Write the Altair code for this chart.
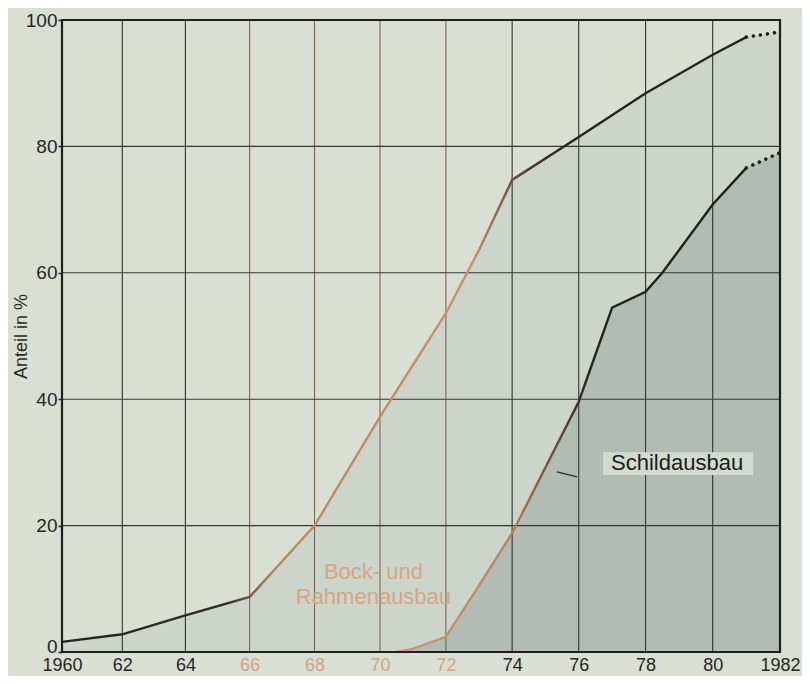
import altair as alt
import pandas as pd

# ---------------- values ----------------
BASE_YEAR = 1960

# upper curve (boundary of "Bock- und Rahmenausbau"), solid part
upper_years = [1960, 1962, 1964, 1966, 1968, 1970, 1972, 1973, 1974, 1976, 1978, 1980, 1981]
upper_share = [1.6, 2.8, 5.8, 8.7, 20.0, 37.2, 53.6, 63.6, 74.7, 81.5, 88.4, 94.5, 97.3]
# dotted estimate
upper_est_years = [1981, 1982]
upper_est_share = [97.3, 98.1]

# lower curve ("Schildausbau"), solid part
lower_years = [1970.5, 1971, 1972, 1973, 1974, 1976, 1977, 1978, 1978.5, 1980, 1981]
lower_share = [0.0, 0.5, 2.4, 10.5, 18.8, 39.6, 54.5, 57.0, 60.0, 70.8, 76.6]
# dotted estimate
lower_est_years = [1981, 1982]
lower_est_share = [76.6, 79.0]

x_tick_years = [1960, 1962, 1964, 1966, 1968, 1970, 1972, 1974, 1976, 1978, 1980, 1982]
y_tick_values = [0, 20, 40, 60, 80, 100]

label_texts = ["Schildausbau", "Bock- und", "Rahmenausbau"]
label_years = [1978.94, 1969.8, 1969.8]
label_values = [29.9, 12.7, 8.7]
label_colors = ["#1c1c1c", "#d4a786", "#d4a786"]

box_years = [1976.73, 1981.2]
box_values = [28.0, 31.6]

leader_years = [1975.35, 1975.95]
leader_values = [28.5, 27.7]

# ---------------- tables ----------------
def table(years, vals):
    return pd.DataFrame({"t": [y - BASE_YEAR for y in years], "v": vals})

upper_df = table(upper_years, upper_share)
upper_est_df = table(upper_est_years, upper_est_share)
upper_area_df = table(upper_years + upper_est_years[1:], upper_share + upper_est_share[1:])
lower_df = table(lower_years, lower_share)
lower_est_df = table(lower_est_years, lower_est_share)
lower_area_df = table(lower_years + lower_est_years[1:], lower_share + lower_est_share[1:])

vgrid_df = pd.DataFrame({"t": [y - BASE_YEAR for y in x_tick_years[1:-1]]})
hgrid_df = pd.DataFrame({"v": y_tick_values[1:-1]})
frame_df = pd.DataFrame({
    "t": [x_tick_years[0] - BASE_YEAR], "t2": [x_tick_years[-1] - BASE_YEAR],
    "v": [y_tick_values[0]], "v2": [y_tick_values[-1]],
})
label_df = pd.DataFrame({
    "t": [y - BASE_YEAR for y in label_years], "v": label_values,
    "label": label_texts, "col": label_colors,
})
box_df = pd.DataFrame({
    "t": [box_years[0] - BASE_YEAR], "t2": [box_years[1] - BASE_YEAR],
    "v": [box_values[0]], "v2": [box_values[1]],
})
leader_df = pd.DataFrame({
    "t": [leader_years[0] - BASE_YEAR], "t2": [leader_years[1] - BASE_YEAR],
    "v": [leader_values[0]], "v2": [leader_values[1]],
})

# ---------------- scales / axes ----------------
span = x_tick_years[-1] - BASE_YEAR
xscale = alt.Scale(type="pow", exponent=1.033, domain=[0, span], nice=False)
yscale = alt.Scale(domain=[y_tick_values[0], y_tick_values[-1]], nice=False)

xaxis = alt.Axis(
    values=[y - BASE_YEAR for y in x_tick_years],
    labelExpr=("datum.value == 0 || datum.value == %d ? toString(datum.value + %d)"
               " : substring(toString(datum.value + %d), 2, 4)") % (span, BASE_YEAR, BASE_YEAR),
    grid=False, domain=False, ticks=False, labelFlush=False,
    labelFont="Liberation Sans", labelFontSize=18, labelPadding=4,
    labelColor={"condition": {"test": "datum.value >= 5 && datum.value <= 13", "value": "#d2a484"},
                "value": "#262626"},
    title="",
)
yaxis = alt.Axis(
    values=y_tick_values, format="d", grid=False, domain=False, labelFlush=False,
    ticks=True, tickSize=4, tickColor="#222222", tickWidth=1.5,
    labelFont="Liberation Sans", labelFontSize=19, labelPadding=1, labelColor="#262626",
    labelBaseline={"condition": {"test": "datum.value == 0", "value": "alphabetic"},
                   "value": "middle"},
    title="Anteil in %", titleFont="Liberation Sans", titleFontSize=18,
    titleFontWeight="normal", titleColor="#2a2a2a",
    titleAngle=270, titleBaseline="middle", titleX=-41,
)

X = alt.X("t:Q", scale=xscale, axis=xaxis)
Y = alt.Y("v:Q", scale=yscale, axis=yaxis)

# ---------------- layers ----------------
upper_area = alt.Chart(upper_area_df).mark_area(color="#cdd4ca").encode(x=X, y=Y)
lower_area = alt.Chart(lower_area_df).mark_area(color="#b3bcb4").encode(x=X, y=Y)

vgrid = alt.Chart(vgrid_df).mark_rule(strokeWidth=1.1).encode(
    x=X,
    color=alt.condition("datum.t >= 6 && datum.t <= 12", alt.value("#7d6655"), alt.value("#333333")),
)
hgrid = alt.Chart(hgrid_df).mark_rule(strokeWidth=1.1, color="#363636").encode(y=Y)

box = alt.Chart(box_df).mark_rect(color="#d3dad0").encode(
    x=X, x2=alt.X2("t2:Q"), y=Y, y2=alt.Y2("v2:Q"))

upper_grad = alt.Gradient(
    gradient="linear", x1=0, x2=1, y1=0, y2=0,
    stops=[
        alt.GradientStop(color="#262422", offset=0),
        alt.GradientStop(color="#2e2a27", offset=0.24),
        alt.GradientStop(color="#b88663", offset=0.31),
        alt.GradientStop(color="#c59270", offset=0.60),
        alt.GradientStop(color="#4a3a30", offset=0.68),
        alt.GradientStop(color="#262422", offset=0.75),
        alt.GradientStop(color="#262422", offset=1),
    ],
)
lower_grad = alt.Gradient(
    gradient="linear", x1=0, x2=1, y1=0, y2=0,
    stops=[
        alt.GradientStop(color="#c9977a", offset=0),
        alt.GradientStop(color="#b98462", offset=0.32),
        alt.GradientStop(color="#6a4f3e", offset=0.45),
        alt.GradientStop(color="#262422", offset=0.55),
        alt.GradientStop(color="#1e1e1e", offset=1),
    ],
)

upper_line = alt.Chart(upper_df).mark_line(stroke=upper_grad, strokeWidth=2.4).encode(x=X, y=Y)
lower_line = alt.Chart(lower_df).mark_line(stroke=lower_grad, strokeWidth=2.4).encode(x=X, y=Y)
upper_dots = alt.Chart(upper_est_df).mark_line(
    color="#1e1e1e", strokeWidth=3.5, strokeDash=[0.1, 7], strokeCap="round").encode(x=X, y=Y)
lower_dots = alt.Chart(lower_est_df).mark_line(
    color="#1e1e1e", strokeWidth=3.5, strokeDash=[0.1, 7], strokeCap="round").encode(x=X, y=Y)

frame = alt.Chart(frame_df).mark_rect(fillOpacity=0, stroke="#1f1f1f", strokeWidth=2.2).encode(
    x=X, x2=alt.X2("t2:Q"), y=Y, y2=alt.Y2("v2:Q"))

leader = alt.Chart(leader_df).mark_rule(color="#2a2a2a", strokeWidth=1.4).encode(
    x=X, x2=alt.X2("t2:Q"), y=Y, y2=alt.Y2("v2:Q"))

labels = alt.Chart(label_df).mark_text(
    font="Liberation Sans", fontSize=22, align="center", baseline="middle").encode(
    x=X, y=Y, text="label:N", color=alt.Color("col:N", scale=None))

chart = alt.layer(
    upper_area, lower_area, vgrid, hgrid, box,
    upper_line, lower_line, upper_dots, lower_dots,
    frame, leader, labels,
).properties(
    width=718, height=632,
    autosize=alt.AutoSizeParams(type="none"),
    padding={"left": 54, "top": 12, "right": 22, "bottom": 24},
).configure(
    background="#d9dfd3",
).configure_view(
    stroke="transparent", fill="#d9dfd3",
)

chart.save("out.html", embed_options={"renderer": "svg", "actions": False})
